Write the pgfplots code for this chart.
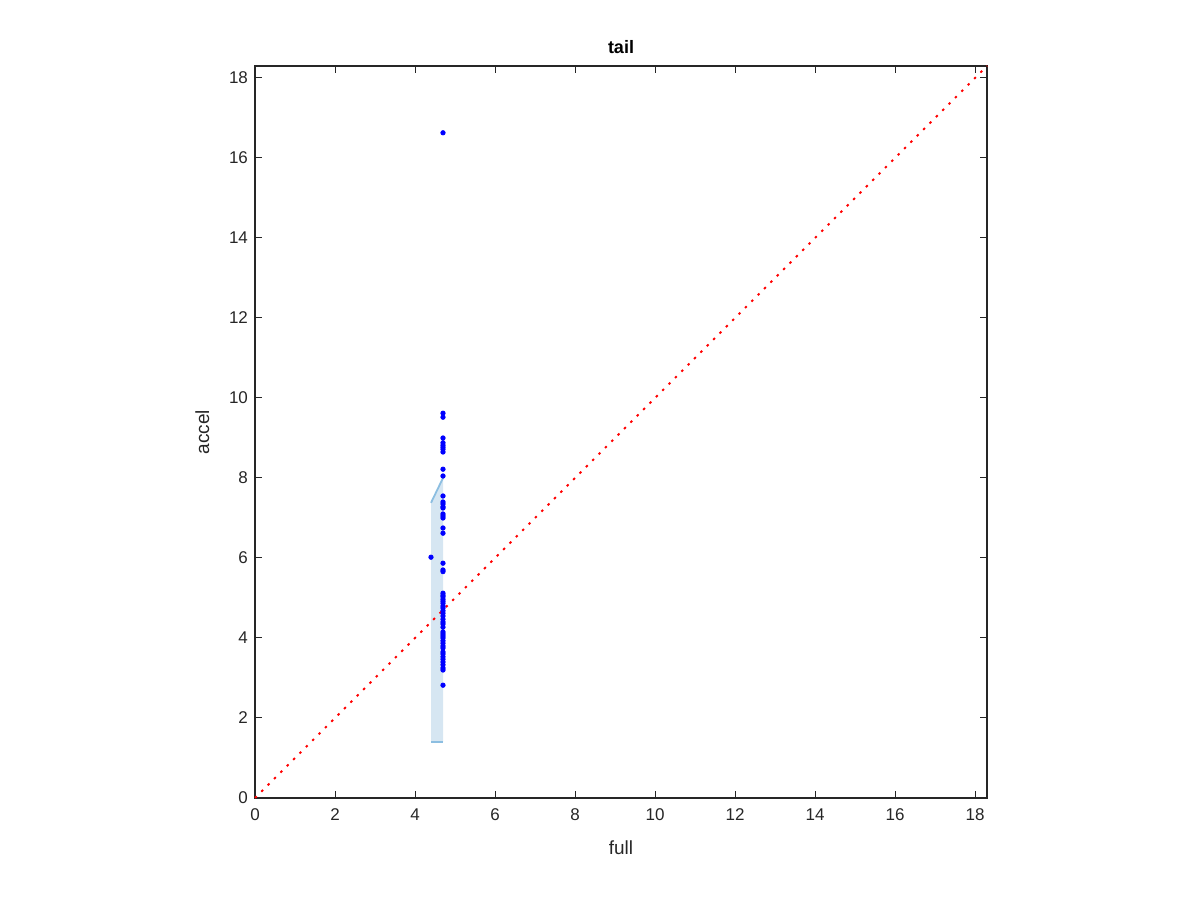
\documentclass[border=0pt]{standalone}
\usepackage{pgfplots}
\pgfplotsset{compat=1.18}
\usepackage{fontspec}
\setmainfont{Liberation Sans}
\definecolor{bandfill}{RGB}{214,230,242}
\definecolor{bandline}{RGB}{140,190,225}
\definecolor{axgray}{RGB}{38,38,38}
\begin{document}
\begin{tikzpicture}[x=1pt,y=1pt]
\useasboundingbox (0,0) rectangle (600,450);
\begin{axis}[
  at={(127.5pt,51pt)}, anchor=south west,
  scale only axis, width=366pt, height=366pt,
  xmin=0, xmax=18.3, ymin=0, ymax=18.3,
  xtick={0,2,...,18}, ytick={0,2,...,18},
  tick align=inside, major tick length=3.5pt,
  xtick pos=both, ytick pos=both,
  axis line style={axgray, line width=0.6pt},
  every tick/.style={axgray, line width=0.5pt},
  tick label style={font=\fontsize{8.5}{10}\selectfont, text=axgray},
  xticklabel style={yshift=-2pt},
  /pgf/number format/assume math mode=true,
  xlabel={full}, ylabel={accel},
  label style={font=\fontsize{9.5}{11}\selectfont, text=axgray},
  xlabel style={yshift=-3pt},
  ylabel style={yshift=3pt},
  title={\textbf{tail}},
  title style={font=\fontsize{9}{11}\selectfont, yshift=-3.5pt},
  clip=false,
]
\addplot[fill=bandfill, draw=none] coordinates {(4.4,1.4) (4.7,1.4) (4.7,8.0) (4.4,7.38)} -- cycle;
\addplot[bandline, line width=0.9pt] coordinates {(4.4,7.38) (4.7,8.0)};
\addplot[bandline, line width=0.9pt] coordinates {(4.4,1.4) (4.7,1.4)};
\addplot[red, line width=1pt, line cap=butt, dash pattern=on 1.2pt off 3.3pt] coordinates {(0,0) (18.3,18.3)};
\addplot[only marks, mark=*, mark size=1.1pt, blue, mark options={draw=blue, fill=blue}] coordinates {
(4.7,16.63)
(4.7,9.62) (4.7,9.52) (4.7,9.0) (4.7,8.88) (4.7,8.82) (4.7,8.77) (4.7,8.72) (4.7,8.65)
(4.7,8.22) (4.7,8.05)
(4.7,7.55) (4.7,7.4) (4.7,7.35) (4.7,7.28) (4.7,7.25) (4.7,7.1) (4.7,7.05) (4.7,7.0)
(4.7,6.75) (4.7,6.62)
(4.4,6.02)
(4.7,5.87) (4.7,5.7) (4.7,5.66)
(4.7,5.12) (4.7,5.07) (4.7,5.03) (4.7,4.97) (4.7,4.92) (4.7,4.87) (4.7,4.8) (4.7,4.75)
(4.7,4.68) (4.7,4.62) (4.7,4.55) (4.7,4.47) (4.7,4.4) (4.7,4.35) (4.7,4.27) (4.7,4.15)
(4.7,4.1) (4.7,4.05) (4.7,4.0) (4.7,3.93) (4.7,3.87) (4.7,3.8) (4.7,3.75) (4.7,3.65)
(4.7,3.6) (4.7,3.53) (4.7,3.47) (4.7,3.4) (4.7,3.33) (4.7,3.25) (4.7,3.2)
(4.7,2.82)
};
\end{axis}
\end{tikzpicture}
\end{document}
